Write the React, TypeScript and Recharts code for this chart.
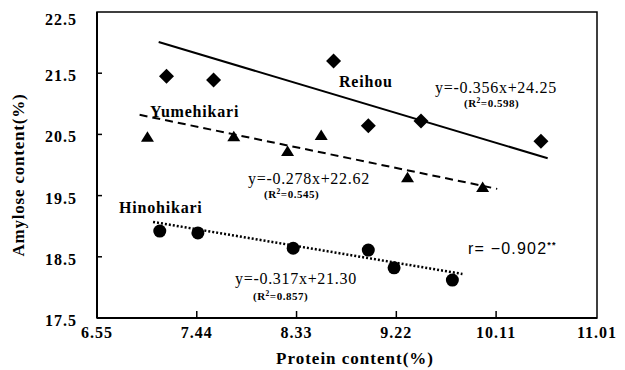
import { ComposedChart, Scatter, Line, XAxis, YAxis, ReferenceArea } from "recharts";

const serif = "'Liberation Serif', 'Times New Roman', serif";
const sans = "'Liberation Sans', Arial, sans-serif";

const xTicks = [6.55, 7.44, 8.33, 9.22, 10.11, 11.01];
const yTicks = [17.5, 18.5, 19.5, 20.5, 21.5, 22.5];

// protein (x) vs amylose (y)
const reihou = [
  { x: 7.17, y: 21.45 },
  { x: 7.59, y: 21.39 },
  { x: 8.66, y: 21.7 },
  { x: 8.97, y: 20.64 },
  { x: 9.44, y: 20.72 },
  { x: 10.51, y: 20.39 },
];
const yumehikari = [
  { x: 7.0, y: 20.46 },
  { x: 7.77, y: 20.47 },
  { x: 8.25, y: 20.23 },
  { x: 8.55, y: 20.49 },
  { x: 9.32, y: 19.8 },
  { x: 9.99, y: 19.64 },
];
const hinohikari = [
  { x: 7.11, y: 18.92 },
  { x: 7.45, y: 18.89 },
  { x: 8.3, y: 18.64 },
  { x: 8.97, y: 18.61 },
  { x: 9.2, y: 18.32 },
  { x: 9.72, y: 18.12 },
];

// fitted lines as drawn (end points)
const reihouFit = [
  { x: 7.1, y: 22.01 },
  { x: 10.57, y: 20.11 },
];
const yumehikariFit = [
  { x: 6.93, y: 20.82 },
  { x: 10.12, y: 19.61 },
];
const hinohikariFit = [
  { x: 7.05, y: 19.07 },
  { x: 9.81, y: 18.22 },
];

const Diamond = (p: any) => (
  <polygon
    points={`${p.cx},${p.cy - 7.5} ${p.cx + 7.5},${p.cy} ${p.cx},${p.cy + 7.5} ${p.cx - 7.5},${p.cy}`}
    fill="#000"
  />
);
const Triangle = (p: any) => (
  <polygon points={`${p.cx},${p.cy - 5.5} ${p.cx + 6.5},${p.cy + 5} ${p.cx - 6.5},${p.cy + 5}`} fill="#000" />
);
const Dot = (p: any) => <circle cx={p.cx} cy={p.cy} r={6.5} fill="#000" />;

const YTick = (props: any) => {
  const { x, y, payload } = props;
  const v = payload.value;
  const edge = v === yTicks[0] || v === yTicks[yTicks.length - 1];
  return (
    <g>
      {!edge && <line x1={x} y1={y} x2={x + 5} y2={y} stroke="#000" strokeWidth={1.5} />}
      <text x={x - 20} y={y + 8} textAnchor="end" fontFamily={serif} fontWeight="bold" fontSize={16} letterSpacing={1}>
        {v.toFixed(1)}
      </text>
    </g>
  );
};

const XTick = (props: any) => {
  const { x, y, payload } = props;
  const v = payload.value;
  const edge = v === xTicks[0] || v === xTicks[xTicks.length - 1];
  return (
    <g>
      {!edge && <line x1={x} y1={y} x2={x} y2={y - 7} stroke="#000" strokeWidth={1.5} />}
      <text x={x} y={y + 20} textAnchor="middle" fontFamily={serif} fontWeight="bold" fontSize={16} letterSpacing={1}>
        {v.toFixed(2)}
      </text>
    </g>
  );
};

const eq = { fontFamily: serif, fontSize: 16, letterSpacing: 0.7 };
const name = { fontFamily: serif, fontSize: 16, fontWeight: "bold" as const, letterSpacing: 0.8 };
const r2 = { fontFamily: serif, fontSize: 11, fontWeight: "bold" as const, letterSpacing: 0.5 };

export default function App() {
  return (
    <div style={{ position: "relative", width: 617, height: 362, background: "#fff" }}>
      <ComposedChart width={617} height={362} margin={{ top: 4, right: 28, left: 0, bottom: 0 }}>
        <XAxis
          type="number"
          dataKey="x"
          domain={[6.55, 11.01]}
          ticks={xTicks}
          tick={<XTick />}
          tickLine={false}
          tickSize={0}
          tickMargin={0}
          height={52}
          axisLine={{ stroke: "#000", strokeWidth: 2 }}
          allowDataOverflow
        />
        <YAxis
          type="number"
          dataKey="y"
          domain={[17.5, 22.5]}
          ticks={yTicks}
          tick={<YTick />}
          tickLine={false}
          tickSize={0}
          tickMargin={0}
          width={89}
          axisLine={{ stroke: "#000", strokeWidth: 2 }}
          allowDataOverflow
        />
        <ReferenceArea x1={6.55} x2={11.01} y1={17.5} y2={22.5} fill="none" stroke="#000" strokeWidth={1.5} />
        <Line data={reihouFit} dataKey="y" stroke="#000" strokeWidth={2} dot={false} isAnimationActive={false} />
        <Line
          data={yumehikariFit}
          dataKey="y"
          stroke="#000"
          strokeWidth={2}
          strokeDasharray="8 5"
          dot={false}
          isAnimationActive={false}
        />
        <Line
          data={hinohikariFit}
          dataKey="y"
          stroke="#000"
          strokeWidth={2.5}
          strokeDasharray="2 2"
          dot={false}
          isAnimationActive={false}
        />
        <Scatter data={reihou} shape={<Diamond />} isAnimationActive={false} />
        <Scatter data={yumehikari} shape={<Triangle />} isAnimationActive={false} />
        <Scatter data={hinohikari} shape={<Dot />} isAnimationActive={false} />
      </ComposedChart>
      <svg
        width={625}
        height={370}
        style={{ position: "absolute", left: -8, top: -8, pointerEvents: "none", overflow: "visible" }}
      >
        <text x={339} y={87} {...name}>Reihou</text>
        <text x={435} y={93} {...eq}>y=-0.356x+24.25</text>
        <text x={464} y={107} {...r2}>
          (R<tspan dy={-4} fontSize={7.5}>2</tspan>
          <tspan dy={4}>=0.598)</tspan>
        </text>
        <text x={150} y={117} {...name}>Yumehikari</text>
        <text x={248} y={184} {...eq}>y=-0.278x+22.62</text>
        <text x={264} y={198} {...r2}>
          (R<tspan dy={-4} fontSize={7.5}>2</tspan>
          <tspan dy={4}>=0.545)</tspan>
        </text>
        <text x={119} y={213} {...name}>Hinohikari</text>
        <text x={235} y={284} {...eq}>y=-0.317x+21.30</text>
        <text x={253} y={300} {...r2}>
          (R<tspan dy={-4} fontSize={7.5}>2</tspan>
          <tspan dy={4}>=0.857)</tspan>
        </text>
        <text x={468} y={254} fontFamily={sans} fontSize={16} letterSpacing={1.2}>
          r= −0.902<tspan dy={-6} fontSize={9} fontWeight="bold">**</tspan>
        </text>
        <text x={355} y={364} textAnchor="middle" fontFamily={serif} fontWeight="bold" fontSize={17} letterSpacing={1}>
          Protein content(%)
        </text>
        <text
          x={24}
          y={175}
          transform="rotate(-90 24 175)"
          textAnchor="middle"
          fontFamily={serif}
          fontWeight="bold"
          fontSize={17}
          letterSpacing={0.8}
        >
          Amylose content(%)
        </text>
      </svg>
    </div>
  );
}
